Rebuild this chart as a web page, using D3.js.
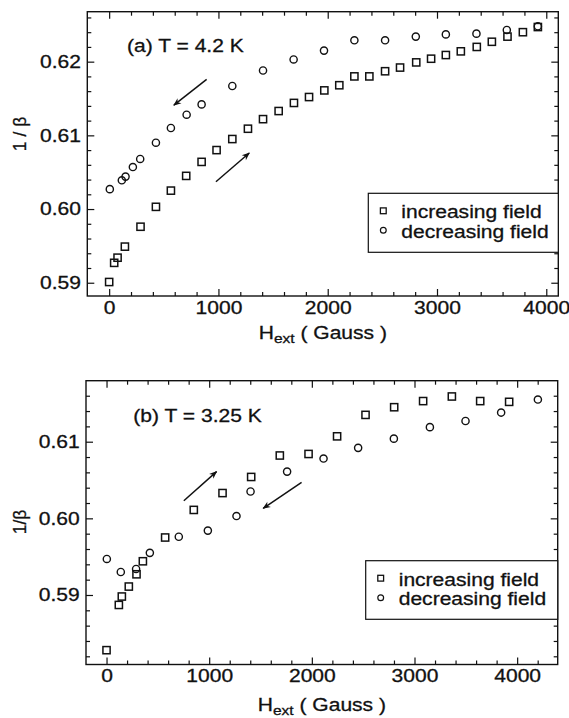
<!DOCTYPE html>
<html><head><meta charset="utf-8">
<script src="https://cdn.jsdelivr.net/npm/d3@7"></script>
<style>
body{margin:0;background:#fff}
svg{display:block}
text{font-family:"Liberation Sans",Arial,Helvetica,sans-serif;fill:#111;stroke:#111;stroke-width:0.3px}
</style>
</head><body>
<svg id="c" width="569" height="718"></svg>
<script>
// ---------- data ----------
const xTicks = [0, 1000, 2000, 3000, 4000];
const yTicksA = [0.59, 0.60, 0.61, 0.62];
const yTicksB = [0.59, 0.60, 0.61];
const titles = ["(a) T = 4.2 K", "(b) T = 3.25 K"];
const yLabels = ["1 / β", "1/β"];
const legendLabels = ["increasing field", "decreasing field"];

// panel (a) T = 4.2 K
const aIncH = [0,46,77,144,287,428,565,705,846,983,1127,1270,1408,1551,1691,1829,1969,2106,2244,2381,2525,2662,2810,2946,3081,3218,3364,3502,3645,3786,3923];
const aIncV = [0.5901,0.5927,0.5934,0.5949,0.5976,0.6003,0.6025,0.6045,0.6064,0.6080,0.6095,0.6109,0.6122,0.6133,0.6144,0.6152,0.6161,0.6168,0.6180,0.6180,0.6187,0.6192,0.6199,0.6204,0.6209,0.6214,0.6220,0.6227,0.6234,0.6240,0.6247];
const aDecH = [6,116,150,217,284,428,565,709,846,1127,1408,1688,1966,2244,2525,2806,3081,3361,3639,3923];
const aDecV = [0.6027,0.6039,0.6044,0.6057,0.6068,0.6090,0.6110,0.6128,0.6142,0.6167,0.6188,0.6203,0.6215,0.6229,0.6229,0.6234,0.6237,0.6238,0.6243,0.6248];
const aArrows = [[892,0.6176,592,0.6141],[977,0.6037,1282,0.6076]];

// panel (b) T = 3.25 K
const bIncH = [0,120,149,217,292,354,571,850,1130,1409,1688,1968,2246,2523,2802,3084,3364,3640,3922];
const bIncV = [0.5828,0.5887,0.5898,0.5911,0.5927,0.5944,0.5975,0.6011,0.6033,0.6054,0.6082,0.6084,0.6107,0.6135,0.6145,0.6153,0.6159,0.6153,0.6152];
const bDecH = [3,139,288,422,704,987,1266,1403,1759,2114,2451,2799,3150,3497,3844,4202];
const bDecV = [0.5947,0.5930,0.5934,0.5955,0.5976,0.5984,0.6003,0.6035,0.6061,0.6078,0.6092,0.6104,0.6119,0.6127,0.6138,0.6155];
const bArrows = [[753,0.6023,1072,0.6061],[1900,0.6047,1526,0.6013]];

// ---------- drawing ----------
const SX = 1.15, FS = 18.3, INK = "#111";
const svg = d3.select("#c");
svg.append("defs").append("marker")
  .attr("id","ah").attr("viewBox","0 0 10 10").attr("refX",9).attr("refY",5)
  .attr("markerWidth",12).attr("markerHeight",8).attr("markerUnits","userSpaceOnUse")
  .attr("orient","auto")
  .append("path").attr("d","M0,1 L10,5 L0,9 L3,5 Z").attr("fill",INK);

function stext(g, x, y, str, anchor, size) {
  return g.append("g").attr("transform", `translate(${x},${y}) scale(${SX},1)`)
    .append("text").attr("text-anchor", anchor || "start")
    .attr("font-size", size || FS).text(str);
}

const panels = [
  {L:87.3, R:558.3, T:11.7, B:296, xd:[-200,4110], yd:[0.5882,0.62678], yt:yTicksA,
   inc:[aIncH,aIncV], dec:[aDecH,aDecV], arrows:aArrows, title:titles[0], tx:127, ty:51.7,
   ylab:yLabels[0], yly:134, xly:339, leg:{x:368.3, y:193.3, h:59}},
  {L:86, R:557.7, T:380.7, B:664.5, xd:[-200,4395], yd:[0.58093,0.61796], yt:yTicksB,
   inc:[bIncH,bIncV], dec:[bDecH,bDecV], arrows:bArrows, title:titles[1], tx:133.3, ty:421.7,
   ylab:yLabels[1], yly:522, xly:710.5, leg:{x:365.7, y:560.7, h:58.6}}
];

panels.forEach(p => {
  const x = d3.scaleLinear().domain(p.xd).range([p.L, p.R]);
  const y = d3.scaleLinear().domain(p.yd).range([p.B, p.T]);
  const g = svg.append("g");
  const minorX = d3.range(-200, p.xd[1], 200).filter(v => v % 1000 !== 0 && v > p.xd[0]);
  const minorY = d3.range(0.580, 0.63, 0.002).map(v => +v.toFixed(3))
      .filter(v => v > p.yd[0] && v < p.yd[1] && Math.round(v*1000) % 10 !== 0);

  function style(sel){ sel.select(".domain").remove(); sel.selectAll("line").attr("stroke",INK).attr("stroke-width",1.2); }

  // bottom axis with labels
  const gb = g.append("g").attr("transform",`translate(0,${p.B})`)
    .call(d3.axisBottom(x).tickValues(xTicks).tickSize(-7).tickPadding(5).tickFormat(d3.format("d")));
  style(gb);
  gb.selectAll("text").attr("font-size",FS).attr("fill",INK).attr("font-family",null)
    .attr("transform",`scale(${SX},1)`);
  g.append("g").attr("transform",`translate(0,${p.B})`)
    .call(d3.axisBottom(x).tickValues(minorX).tickSize(-4).tickFormat("")).call(style);
  // top axis
  g.append("g").attr("transform",`translate(0,${p.T})`)
    .call(d3.axisTop(x).tickValues(xTicks).tickSize(-7).tickFormat("")).call(style);
  g.append("g").attr("transform",`translate(0,${p.T})`)
    .call(d3.axisTop(x).tickValues(minorX).tickSize(-4).tickFormat("")).call(style);
  // left axis with labels
  const gl = g.append("g").attr("transform",`translate(${p.L},0)`)
    .call(d3.axisLeft(y).tickValues(p.yt).tickSize(-7).tickPadding(5.5).tickFormat(d3.format(".2f")));
  style(gl);
  gl.selectAll("text").attr("font-size",FS).attr("fill",INK).attr("font-family",null)
    .attr("transform",`scale(${SX},1)`);
  g.append("g").attr("transform",`translate(${p.L},0)`)
    .call(d3.axisLeft(y).tickValues(minorY).tickSize(-4).tickFormat("")).call(style);
  // right axis
  g.append("g").attr("transform",`translate(${p.R},0)`)
    .call(d3.axisRight(y).tickValues(p.yt).tickSize(-7).tickFormat("")).call(style);
  g.append("g").attr("transform",`translate(${p.R},0)`)
    .call(d3.axisRight(y).tickValues(minorY).tickSize(-4).tickFormat("")).call(style);

  // frame
  g.append("rect").attr("x",p.L).attr("y",p.T).attr("width",p.R-p.L).attr("height",p.B-p.T)
    .attr("fill","none").attr("stroke",INK).attr("stroke-width",1.4);

  // data
  const inc = p.inc[0].map((h,i)=>({h, v:p.inc[1][i]}));
  const dec = p.dec[0].map((h,i)=>({h, v:p.dec[1][i]}));
  const sq = 7.2;
  g.append("g").selectAll("rect").data(inc).join("rect")
    .attr("x",d=>x(d.h)-sq/2).attr("y",d=>y(d.v)-sq/2).attr("width",sq).attr("height",sq)
    .attr("fill","none").attr("stroke",INK).attr("stroke-width",1.5);
  g.append("g").selectAll("circle").data(dec).join("circle")
    .attr("cx",d=>x(d.h)).attr("cy",d=>y(d.v)).attr("r",3.6)
    .attr("fill","none").attr("stroke",INK).attr("stroke-width",1.4);

  // arrows
  g.append("g").selectAll("line").data(p.arrows).join("line")
    .attr("x1",d=>x(d[0])).attr("y1",d=>y(d[1])).attr("x2",d=>x(d[2])).attr("y2",d=>y(d[3]))
    .attr("stroke",INK).attr("stroke-width",1.5).attr("marker-end","url(#ah)");

  // title
  stext(g, p.tx, p.ty, p.title, "start", FS);

  // legend
  const lg = g.append("g");
  lg.append("rect").attr("x",p.leg.x).attr("y",p.leg.y).attr("width",p.R-p.leg.x).attr("height",p.leg.h)
    .attr("fill","#fff").attr("stroke",INK).attr("stroke-width",1.2);
  const lx = p.leg.x + 15, ly1 = p.leg.y + 17.5, ly2 = p.leg.y + 37;
  lg.append("rect").attr("x",lx-2.9).attr("y",ly1-2.9).attr("width",5.8).attr("height",5.8)
    .attr("fill","none").attr("stroke",INK).attr("stroke-width",1.3);
  lg.append("circle").attr("cx",lx).attr("cy",ly2).attr("r",2.9)
    .attr("fill","none").attr("stroke",INK).attr("stroke-width",1.2);
  stext(lg, p.leg.x + 33, ly1 + 7.5, legendLabels[0], "start", FS);
  stext(lg, p.leg.x + 33, ly2 + 7.3, legendLabels[1], "start", FS);

  // y label
  g.append("text").attr("transform",`translate(25.5,${p.yly}) rotate(-90)`)
    .attr("text-anchor","middle").attr("font-size",17.5).text(p.ylab);

  // x label
  const xl = g.append("g").attr("transform",`translate(${(p.L+p.R)/2},${p.xly}) scale(${SX},1)`)
    .append("text").attr("text-anchor","middle").attr("font-size",FS);
  xl.append("tspan").text("H");
  xl.append("tspan").attr("font-size",13.5).attr("dy",4).text("ext");
  xl.append("tspan").attr("dy",-4).text(" ( Gauss )");
});
</script>
</body></html>
